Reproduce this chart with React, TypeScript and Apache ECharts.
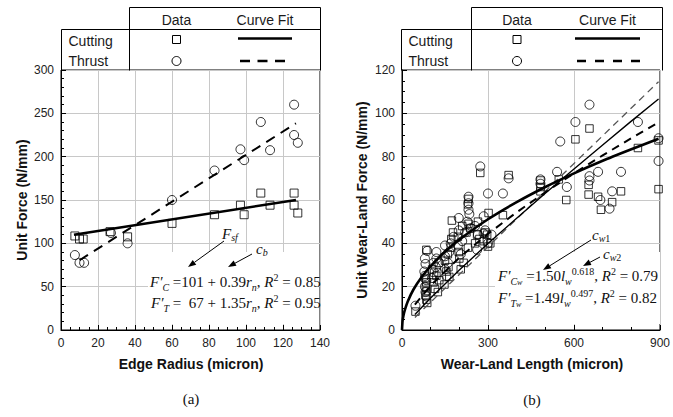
import React, { useEffect, useRef } from "react";
import * as echarts from "echarts";

// ---------- Panel (a): unit force vs edge radius ----------
const edgeCutRadius = [7.5, 10, 12, 26.5, 36, 60, 83, 97, 99, 108, 113, 126, 126, 128];
const edgeCutForce = [108.5, 105, 105, 113.5, 107.5, 123, 133, 144, 133, 158, 144, 158, 144, 135];
const edgeThrRadius = [7.5, 10, 12.5, 27, 36, 60, 83, 97, 99, 108, 113, 126, 126, 128];
const edgeThrForce = [86.5, 77.5, 77.5, 112, 100, 150, 184, 208.5, 196, 240, 207.5, 260, 225, 216];
const edgeCutFitR = [7, 127];
const edgeCutFitF = [110, 150];
const edgeThrFitR = [10, 127];
const edgeThrFitF = [80.5, 238.5];

// ---------- Panel (b): unit wear-land force vs wear-land length ----------
const wearCutL = [
  895, 895, 823, 764, 733, 694, 684, 651, 651, 654, 605, 573, 547, 483, 483, 483, 372, 352, 302, 297, 262, 308, 273,
  47, 85, 82, 85, 83, 86, 82, 85, 88,
  105, 110, 115, 120, 125, 128, 112, 130,
  150, 155, 160, 162, 165, 170, 148, 174, 178, 172,
  195, 198, 200, 205, 210, 215, 225, 232, 232, 230, 230, 238,
  255, 265, 270, 290, 285, 300,
];
const wearCutF = [
  87.5, 65, 84, 64, 59, 55.5, 61.5, 67, 62.5, 93, 88, 60, 69.5, 69, 66, 64, 71.5, 53, 54, 44, 44, 40, 72.5,
  8.5, 37, 24, 22, 20, 18, 16, 14, 12.5,
  28, 22, 19, 25, 17.5, 31, 26.5, 23,
  32, 27, 35, 29, 24.5, 38, 21, 50.5, 45, 42,
  43, 36, 33, 28, 48, 31, 45, 49, 60.5, 58, 38, 47,
  40, 50, 42, 45, 41, 38.5,
];
const wearThrL = [
  654, 605, 823, 552, 895, 895, 541, 684, 764, 654, 654, 575, 352, 300, 372, 483, 483, 733, 692, 724, 273, 285, 285, 312,
  47, 80, 82, 78, 80, 85, 80, 82, 85, 88,
  120, 120, 118, 125, 110, 105,
  150, 150, 150, 155, 165, 170, 180, 160,
  198, 198, 195, 205, 210, 220, 232, 232, 232, 235, 240, 228,
  255, 265, 290, 300, 262,
];
const wearThrF = [
  104, 96, 96, 87, 78, 88.5, 73, 73, 73, 71, 69, 66, 63, 63, 70, 69.5, 67.5, 64, 60, 56, 75.5, 52.5, 44.5, 44,
  11.2, 33, 30.5, 27, 25, 23, 20, 17.5, 15.5, 36.5,
  36, 33, 29, 26.5, 31, 24,
  39, 34, 28, 25, 36, 40, 43, 31,
  51.7, 46, 39, 35, 41, 45, 61.5, 58.5, 55.5, 53.5, 47, 50,
  48, 44, 46, 40, 37,
];
// curve-fit lines
const wearCutFitL = [0, 2, 5, 10, 20, 40, 70, 100, 150, 200, 300, 400, 500, 600, 700, 800, 895];
const wearCutFitF = [0, 4.2, 6.6, 9.3, 13.2, 18.7, 24.7, 29.5, 36.1, 41.7, 51.1, 59.0, 66.0, 72.3, 78.1, 83.4, 88.3];
const wearThrFitL = [45, 100, 200, 300, 400, 500, 600, 700, 800, 895];
const wearThrFitF = [11.7, 20.5, 33.4, 44.4, 54.3, 63.6, 72.3, 80.6, 88.5, 95.8];
const cw1L = [45, 100, 200, 300, 400, 500, 600, 700, 800, 895];
const cw1F = [7.2, 14.8, 27.7, 39.9, 51.6, 63.1, 74.3, 85.4, 96.4, 106.6];
const cw2L = [45, 895];
const cw2F = [5.8, 114.6];

const legendCols = ["Data", "Curve Fit"];
const legendRows = ["Cutting", "Thrust"];

const SANS = "'Liberation Sans', Arial, Helvetica, sans-serif";
const SERIF = "'Liberation Serif', 'Times New Roman', serif";

function pairs(xs: number[], ys: number[]) {
  return xs.map((x, i) => [x, ys[i]]);
}

function arrow(x1: number, y1: number, x2: number, y2: number) {
  const dx = x2 - x1;
  const dy = y2 - y1;
  const L = Math.hypot(dx, dy);
  const ux = dx / L;
  const uy = dy / L;
  const hl = 8;
  const hw = 3;
  const bx = x2 - ux * hl;
  const by = y2 - uy * hl;
  return [
    { type: "line", z: 20, shape: { x1, y1, x2: bx, y2: by }, style: { stroke: "#000", lineWidth: 1 } },
    {
      type: "polygon",
      z: 20,
      shape: { points: [[x2, y2], [bx - uy * hw, by + ux * hw], [bx + uy * hw, by - ux * hw]] },
      style: { fill: "#000" },
    },
  ];
}

function legendTable(x0: number, xBox: number, xR: number, dataX: number, fitX1: number, fitX2: number, dash: number[]) {
  const els: any[] = [];
  const yTop = 7.5;
  const yMid = 29.5;
  const yBot = 70.5;
  const ln = (x1: number, y1: number, x2: number, y2: number) => ({ type: "line", z: 20, shape: { x1, y1, x2, y2 }, style: { stroke: "#000", lineWidth: 1 } });
  els.push(ln(xBox, yTop, xR, yTop));
  els.push(ln(xBox, yTop, xBox, yBot));
  els.push(ln(xR, yTop, xR, yBot));
  els.push(ln(x0, yMid, xR, yMid));
  els.push(ln(x0, yMid, x0, yBot));
  const textStyle = { fontFamily: SANS, fontSize: 14, fill: "#1a1a1a", verticalAlign: "middle" };
  els.push({ type: "text", z: 20, x: dataX, y: 19.5, style: { ...textStyle, text: legendCols[0], align: "center" } });
  els.push({ type: "text", z: 20, x: (fitX1 + fitX2) / 2, y: 19.5, style: { ...textStyle, text: legendCols[1], align: "center" } });
  els.push({ type: "text", z: 20, x: x0 + 7, y: 40.5, style: { ...textStyle, text: legendRows[0], align: "left" } });
  els.push({ type: "text", z: 20, x: x0 + 7, y: 61, style: { ...textStyle, text: legendRows[1], align: "left" } });
  els.push({ type: "rect", z: 20, shape: { x: dataX - 4, y: 35.5, width: 8, height: 8 }, style: { fill: "none", stroke: "#000", lineWidth: 1 } });
  els.push({ type: "circle", z: 20, shape: { cx: dataX, cy: 61, r: 4.5 }, style: { fill: "none", stroke: "#000", lineWidth: 1 } });
  els.push({ type: "line", z: 20, shape: { x1: fitX1, y1: 38.5, x2: fitX2, y2: 38.5 }, style: { stroke: "#000", lineWidth: 2.7 } });
  els.push({ type: "line", z: 20, shape: { x1: fitX1 + 2, y1: 61, x2: fitX2, y2: 61 }, style: { stroke: "#000", lineWidth: 2.7, lineDash: dash } });
  return els;
}

function makeRich(lh: number) {
  return {
    n: { fontFamily: SERIF, fontSize: 15, lineHeight: lh, verticalAlign: "middle", fill: "#111" },
    i: { fontFamily: SERIF, fontSize: 15, fontStyle: "italic", lineHeight: lh, verticalAlign: "middle", fill: "#111" },
    s: { fontFamily: SERIF, fontSize: 10, fontStyle: "italic", lineHeight: 10, verticalAlign: "bottom", fill: "#111" },
    n1: { fontFamily: SERIF, fontSize: 10, lineHeight: 10, verticalAlign: "bottom", fill: "#111" },
    ss: { fontFamily: SERIF, fontSize: 8, fontStyle: "italic", lineHeight: 6, verticalAlign: "bottom", fill: "#111" },
    p: { fontFamily: SERIF, fontSize: 10, lineHeight: 10, verticalAlign: "top", fill: "#111" },
  };
}
const eqRich = makeRich(20);
const noteRich = makeRich(16);

function richText(x: number, y: number, text: string, rich: any = eqRich) {
  return {
    type: "text",
    z: 20,
    x,
    y,
    style: { text, rich, fontFamily: SERIF, fontSize: 15, align: "left", verticalAlign: "middle", fill: "#111" },
  };
}

function axisCommon(min: number, max: number, interval: number, minorSplit: number, gridIndex: number) {
  return {
    type: "value",
    gridIndex,
    min,
    max,
    interval,
    axisLine: { show: true, onZero: false, lineStyle: { color: "#000", width: 1 } },
    axisTick: { show: true, inside: true, length: 5, lineStyle: { color: "#000", width: 1 } },
    minorTick: { show: true, splitNumber: minorSplit, length: 3, lineStyle: { color: "#000", width: 1 } },
    splitLine: { show: true, lineStyle: { color: "#c8c8c8", width: 1 } },
    minorSplitLine: { show: false },
    axisLabel: { color: "#222", fontSize: 12, fontFamily: SANS, margin: 7, showMinLabel: true, showMaxLabel: true },
  };
}

export default function App() {
  const ref = useRef<HTMLDivElement>(null);
  useEffect(() => {
    if (!ref.current) return;
    const chart = echarts.init(ref.current, undefined, { renderer: "svg" });
    const hollow = { color: "rgba(0,0,0,0)", borderColor: "#000", borderWidth: 1 };
    const titleStyle = { fontFamily: SANS, fontWeight: "bold", fontSize: 14, fill: "#111", align: "center", verticalAlign: "middle" };
    const graphics: any[] = [
      // white boxes behind the equations
      { type: "rect", z: 1, shape: { x: 148, y: 252, width: 170, height: 72 }, style: { fill: "#fff" } },
      { type: "rect", z: 1, shape: { x: 495, y: 252, width: 165, height: 72 }, style: { fill: "#fff" } },
      ...legendTable(61.5, 129.5, 320.5, 176.5, 238, 292, [10, 7.5]),
      ...legendTable(401.5, 471.5, 662.5, 517, 575, 640, [9, 9]),
      // axis titles
      { type: "text", z: 20, x: 22, y: 200, rotation: Math.PI / 2, style: { ...titleStyle, text: "Unit Force (N/mm)" } },
      { type: "text", z: 20, x: 362, y: 200, rotation: Math.PI / 2, style: { ...titleStyle, text: "Unit Wear-Land Force (N/mm)" } },
      { type: "text", z: 20, x: 191, y: 364, style: { ...titleStyle, text: "Edge Radius (micron)" } },
      { type: "text", z: 20, x: 532, y: 364, style: { ...titleStyle, text: "Wear-Land Length (micron)" } },
      { type: "text", z: 20, x: 191, y: 399, style: { text: "(a)", fontFamily: SERIF, fontSize: 15, fill: "#111", align: "center", verticalAlign: "middle" } },
      { type: "text", z: 20, x: 532, y: 400, style: { text: "(b)", fontFamily: SERIF, fontSize: 15, fill: "#111", align: "center", verticalAlign: "middle" } },
      // equations (a)
      richText(150, 282, "{i|F′}{s|C}{n| =101 + 0.39}{i|r}{s|n}{n|, }{i|R}{p|2}{n| = 0.85}"),
      richText(151, 303, "{i|F′}{s|T}{n| =  67 + 1.35}{i|r}{s|n}{n|, }{i|R}{p|2}{n| = 0.95}"),
      // equations (b)
      richText(498, 276, "{i|F′}{s|C}{ss|w}{n| =1.50}{i|l}{s|w}{p|0.618}{n|, }{i|R}{p|2}{n| = 0.79}"),
      richText(498, 298, "{i|F′}{s|T}{ss|w}{n| =1.49}{i|l}{s|w}{p|0.497}{n|, }{i|R}{p|2}{n| = 0.82}"),
      // annotations
      richText(222, 234, "{i|F}{s|sf}", noteRich),
      richText(256, 249, "{i|c}{s|b}", noteRich),
      richText(592, 235, "{i|c}{s|w}{n1|1}", noteRich),
      richText(603, 254, "{i|c}{s|w}{n1|2}", noteRich),
      ...arrow(224, 241, 188, 267),
      ...arrow(252, 254, 228, 267),
      ...arrow(591, 240, 543, 270),
      ...arrow(600, 257, 583, 266),
    ];

    chart.setOption({
      animation: false,
      backgroundColor: "#fff",
      grid: [
        { left: 61, top: 70, width: 259, height: 260, show: true, borderColor: "#000", borderWidth: 1, backgroundColor: "transparent" },
        { left: 402, top: 70, width: 260, height: 260, show: true, borderColor: "#000", borderWidth: 1, backgroundColor: "transparent" },
      ],
      xAxis: [axisCommon(0, 140, 20, 4, 0), axisCommon(0, 900, 300, 3, 1)],
      yAxis: [axisCommon(0, 300, 50, 5, 0), axisCommon(0, 120, 20, 4, 1)],
      series: [
        { type: "scatter", name: "Cutting data (a)", xAxisIndex: 0, yAxisIndex: 0, data: pairs(edgeCutRadius, edgeCutForce), symbol: "rect", symbolSize: 8, itemStyle: hollow, silent: true, z: 3 },
        { type: "scatter", name: "Thrust data (a)", xAxisIndex: 0, yAxisIndex: 0, data: pairs(edgeThrRadius, edgeThrForce), symbol: "circle", symbolSize: 9, itemStyle: hollow, silent: true, z: 3 },
        { type: "line", name: "Cutting fit (a)", xAxisIndex: 0, yAxisIndex: 0, data: pairs(edgeCutFitR, edgeCutFitF), showSymbol: false, symbol: "none", lineStyle: { color: "#000", width: 2.6 }, silent: true, z: 4 },
        { type: "line", name: "Thrust fit (a)", xAxisIndex: 0, yAxisIndex: 0, data: pairs(edgeThrFitR, edgeThrFitF), showSymbol: false, symbol: "none", lineStyle: { color: "#000", width: 2, type: [10, 7] }, silent: true, z: 4 },

        { type: "scatter", name: "Cutting data (b)", xAxisIndex: 1, yAxisIndex: 1, data: pairs(wearCutL, wearCutF), symbol: "rect", symbolSize: 7.5, itemStyle: hollow, silent: true, z: 3 },
        { type: "scatter", name: "Thrust data (b)", xAxisIndex: 1, yAxisIndex: 1, data: pairs(wearThrL, wearThrF), symbol: "circle", symbolSize: 9, itemStyle: hollow, silent: true, z: 3 },
        { type: "line", name: "c_w2", xAxisIndex: 1, yAxisIndex: 1, data: pairs(cw2L, cw2F), showSymbol: false, symbol: "none", lineStyle: { color: "#555", width: 1.3, type: [7, 5] }, silent: true, z: 4 },
        { type: "line", name: "c_w1", xAxisIndex: 1, yAxisIndex: 1, data: pairs(cw1L, cw1F), showSymbol: false, symbol: "none", lineStyle: { color: "#000", width: 1.4 }, silent: true, z: 4 },
        { type: "line", name: "Thrust fit (b)", xAxisIndex: 1, yAxisIndex: 1, data: pairs(wearThrFitL, wearThrFitF), showSymbol: false, symbol: "none", lineStyle: { color: "#000", width: 2, type: [8, 6] }, silent: true, z: 4 },
        { type: "line", name: "Cutting fit (b)", xAxisIndex: 1, yAxisIndex: 1, data: pairs(wearCutFitL, wearCutFitF), showSymbol: false, symbol: "none", smooth: 0.2, lineStyle: { color: "#000", width: 2.6 }, silent: true, z: 4 },
      ],
      graphic: { elements: graphics },
    });
    return () => chart.dispose();
  }, []);
  return <div ref={ref} style={{ position: "fixed", left: 0, top: 0, width: 673, height: 417 }} />;
}
